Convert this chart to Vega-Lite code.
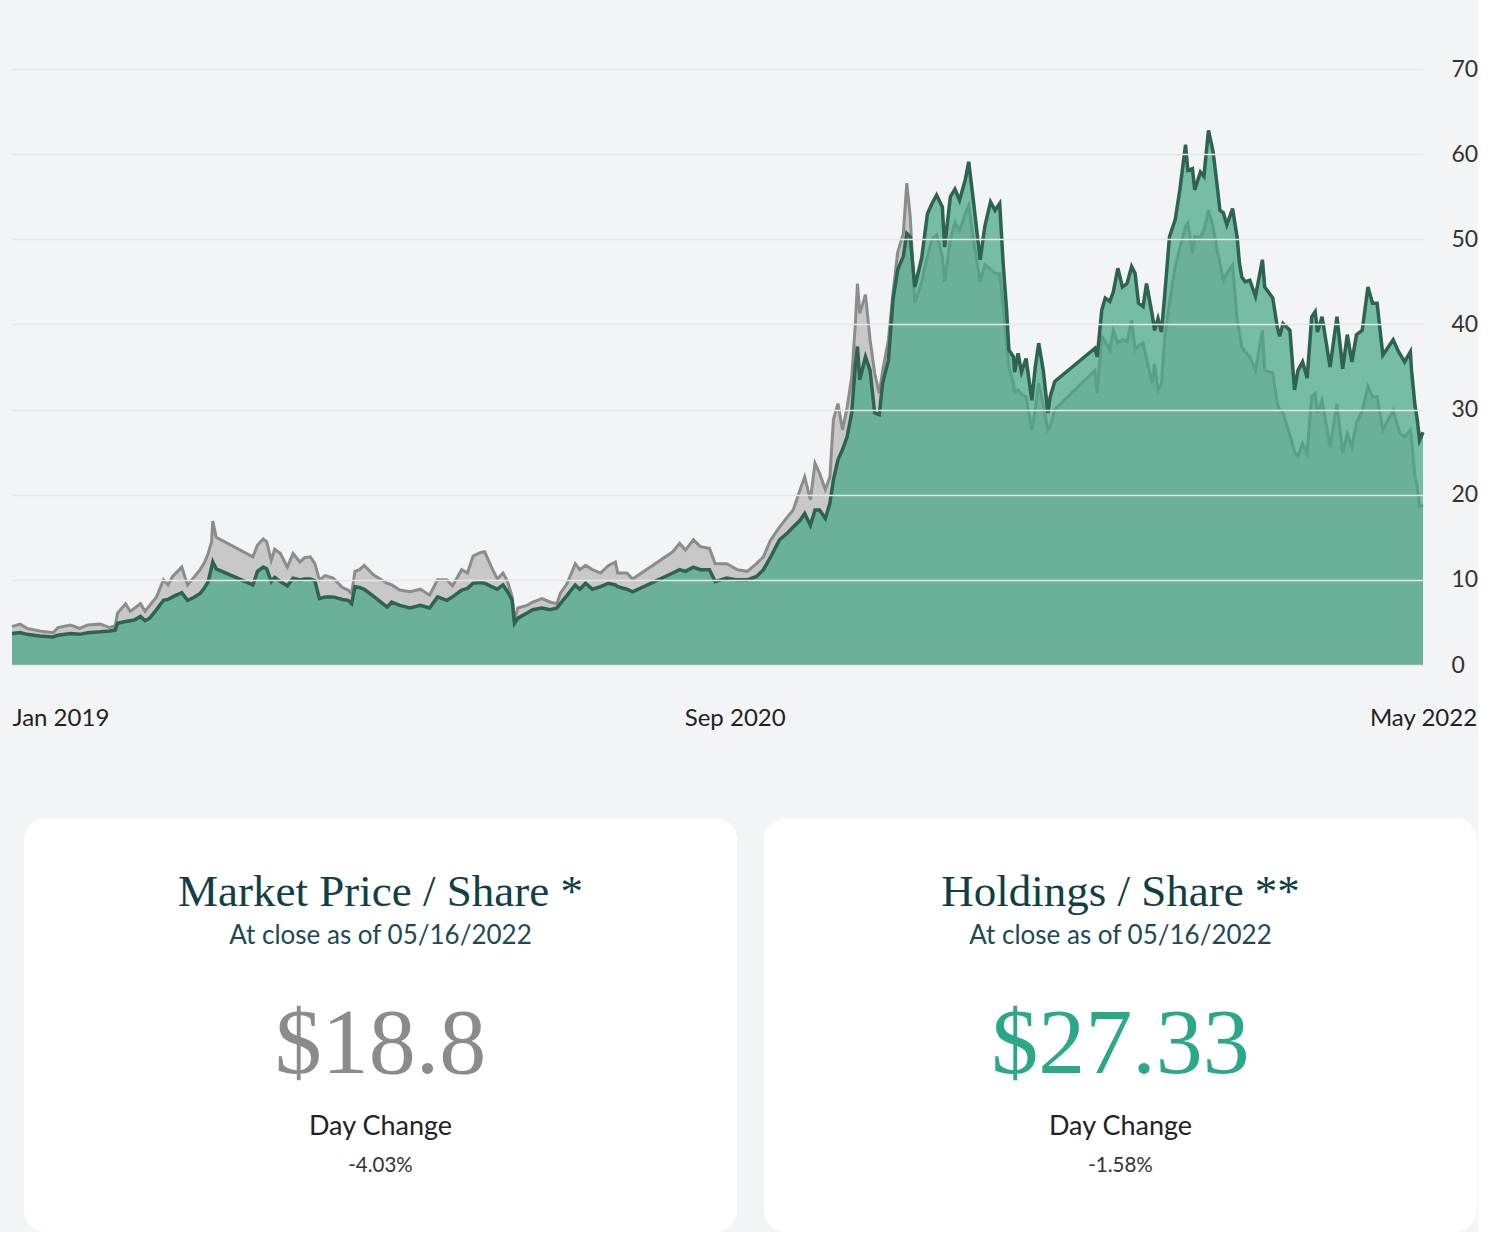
{
  "$schema": "https://vega.github.io/schema/vega-lite/v6.json",
  "background": "#f3f4f6",
  "padding": {"left": 5, "top": 58, "right": 0, "bottom": 0},
  "config": {"view": {"stroke": null}, "font": "Lato"},
  "datasets": {
    "series": [
      {"date":"2019-01-02","price":4.5,"nav":3.7},{"date":"2019-01-09","price":4.8,"nav":3.8},{"date":"2019-01-15","price":4.3,"nav":3.6},{"date":"2019-01-26","price":4.0,"nav":3.4},{"date":"2019-02-07","price":3.8,"nav":3.3},{"date":"2019-02-11","price":4.4,"nav":3.5},{"date":"2019-02-22","price":4.7,"nav":3.7},{"date":"2019-03-02","price":4.3,"nav":3.6},{"date":"2019-03-09","price":4.7,"nav":3.8},{"date":"2019-03-20","price":4.8,"nav":3.9},{"date":"2019-03-28","price":4.4,"nav":4.0},{"date":"2019-04-02","price":4.6,"nav":4.1},{"date":"2019-04-04","price":6.1,"nav":4.9},{"date":"2019-04-11","price":7.2,"nav":5.1},{"date":"2019-04-15","price":6.3,"nav":5.2},{"date":"2019-04-19","price":6.7,"nav":5.3},{"date":"2019-04-24","price":7.2,"nav":5.7},{"date":"2019-04-28","price":6.3,"nav":5.2},{"date":"2019-05-02","price":7.0,"nav":5.5},{"date":"2019-05-08","price":8.0,"nav":6.5},{"date":"2019-05-14","price":10.0,"nav":7.6},{"date":"2019-05-18","price":9.4,"nav":7.7},{"date":"2019-05-22","price":10.4,"nav":8.0},{"date":"2019-05-30","price":11.5,"nav":8.5},{"date":"2019-06-04","price":9.4,"nav":7.6},{"date":"2019-06-09","price":10.2,"nav":7.9},{"date":"2019-06-15","price":11.2,"nav":8.4},{"date":"2019-06-19","price":12.1,"nav":9.1},{"date":"2019-06-22","price":13.1,"nav":9.8},{"date":"2019-06-25","price":14.5,"nav":11.5},{"date":"2019-06-26","price":16.9,"nav":12.1},{"date":"2019-06-29","price":15.0,"nav":11.3},{"date":"2019-07-31","price":12.7,"nav":9.4},{"date":"2019-08-04","price":14.1,"nav":11.0},{"date":"2019-08-09","price":14.8,"nav":11.5},{"date":"2019-08-12","price":14.5,"nav":11.3},{"date":"2019-08-16","price":12.3,"nav":9.8},{"date":"2019-08-19","price":13.6,"nav":10.3},{"date":"2019-08-24","price":13.1,"nav":9.8},{"date":"2019-08-30","price":11.5,"nav":9.3},{"date":"2019-09-04","price":13.1,"nav":10.2},{"date":"2019-09-10","price":12.1,"nav":10.0},{"date":"2019-09-14","price":12.6,"nav":10.1},{"date":"2019-09-19","price":12.7,"nav":10.1},{"date":"2019-09-23","price":11.9,"nav":9.9},{"date":"2019-09-27","price":10.0,"nav":7.8},{"date":"2019-10-02","price":10.5,"nav":8.0},{"date":"2019-10-09","price":10.2,"nav":8.0},{"date":"2019-10-17","price":9.1,"nav":7.7},{"date":"2019-10-22","price":8.8,"nav":7.6},{"date":"2019-10-25","price":8.4,"nav":7.2},{"date":"2019-10-28","price":11.0,"nav":9.2},{"date":"2019-11-01","price":11.2,"nav":9.1},{"date":"2019-11-05","price":11.7,"nav":8.9},{"date":"2019-11-13","price":10.6,"nav":8.1},{"date":"2019-11-25","price":9.6,"nav":6.8},{"date":"2019-11-29","price":9.4,"nav":7.4},{"date":"2019-12-06","price":8.8,"nav":7.0},{"date":"2019-12-15","price":8.6,"nav":6.7},{"date":"2019-12-24","price":8.9,"nav":7.0},
      {"date":"2020-01-01","price":8.2,"nav":6.7},{"date":"2020-01-08","price":10.0,"nav":8.0},{"date":"2020-01-16","price":10.0,"nav":7.6},{"date":"2020-01-21","price":9.3,"nav":8.0},{"date":"2020-01-29","price":11.2,"nav":8.8},{"date":"2020-02-03","price":10.8,"nav":9.0},{"date":"2020-02-08","price":12.8,"nav":9.6},{"date":"2020-02-14","price":13.2,"nav":9.7},{"date":"2020-02-18","price":13.3,"nav":9.6},{"date":"2020-02-24","price":11.5,"nav":9.2},{"date":"2020-02-29","price":10.1,"nav":8.9},{"date":"2020-03-05","price":10.8,"nav":9.4},{"date":"2020-03-09","price":9.8,"nav":8.6},{"date":"2020-03-13","price":8.0,"nav":7.6},{"date":"2020-03-15","price":5.3,"nav":4.9},{"date":"2020-03-18","price":6.7,"nav":5.5},{"date":"2020-03-26","price":7.0,"nav":6.1},{"date":"2020-03-31","price":7.4,"nav":6.5},{"date":"2020-04-08","price":7.8,"nav":6.7},{"date":"2020-04-15","price":7.4,"nav":6.5},{"date":"2020-04-21","price":7.2,"nav":6.7},{"date":"2020-04-24","price":8.4,"nav":7.2},{"date":"2020-04-30","price":9.6,"nav":8.2},{"date":"2020-05-07","price":11.9,"nav":9.4},{"date":"2020-05-11","price":11.2,"nav":8.9},{"date":"2020-05-16","price":11.7,"nav":9.6},{"date":"2020-05-22","price":11.2,"nav":8.9},{"date":"2020-05-29","price":10.8,"nav":9.2},{"date":"2020-06-05","price":11.7,"nav":9.6},{"date":"2020-06-11","price":12.1,"nav":9.4},{"date":"2020-06-13","price":10.8,"nav":9.2},{"date":"2020-06-21","price":10.8,"nav":8.9},{"date":"2020-06-26","price":10.1,"nav":8.6},{"date":"2020-07-31","price":13.3,"nav":10.8},{"date":"2020-08-06","price":14.3,"nav":11.2},{"date":"2020-08-11","price":13.5,"nav":11.0},{"date":"2020-08-18","price":14.7,"nav":11.5},{"date":"2020-08-24","price":13.9,"nav":11.2},{"date":"2020-09-01","price":13.7,"nav":11.2},{"date":"2020-09-06","price":11.9,"nav":9.8},{"date":"2020-09-16","price":11.9,"nav":10.2},{"date":"2020-09-25","price":11.2,"nav":10.0},{"date":"2020-10-04","price":11.0,"nav":10.0},{"date":"2020-10-12","price":11.9,"nav":10.4},{"date":"2020-10-18","price":12.7,"nav":11.2},{"date":"2020-10-24","price":14.6,"nav":12.6},{"date":"2020-11-01","price":16.2,"nav":14.7},{"date":"2020-11-08","price":17.4,"nav":15.5},{"date":"2020-11-13","price":18.2,"nav":16.2},{"date":"2020-11-19","price":20.6,"nav":17.0},{"date":"2020-11-23","price":22.1,"nav":17.8},{"date":"2020-11-28","price":19.4,"nav":16.4},{"date":"2020-12-02","price":23.7,"nav":18.2},{"date":"2020-12-06","price":22.5,"nav":18.2},{"date":"2020-12-11","price":20.6,"nav":17.2},{"date":"2020-12-15","price":22.1,"nav":19.0},{"date":"2020-12-18","price":28.8,"nav":21.7},{"date":"2020-12-22","price":30.7,"nav":24.1},{"date":"2020-12-26","price":27.6,"nav":25.3},{"date":"2020-12-30","price":30.3,"nav":26.8},
      {"date":"2021-01-03","price":33.8,"nav":29.6},{"date":"2021-01-06","price":39.7,"nav":35.0},{"date":"2021-01-08","price":44.8,"nav":37.4},{"date":"2021-01-10","price":41.3,"nav":33.5},{"date":"2021-01-15","price":43.5,"nav":36.2},{"date":"2021-01-19","price":38.2,"nav":34.6},{"date":"2021-01-23","price":34.3,"nav":29.6},{"date":"2021-01-27","price":31.9,"nav":29.4},{"date":"2021-01-30","price":34.6,"nav":33.1},{"date":"2021-02-04","price":38.2,"nav":35.8},{"date":"2021-02-08","price":43.7,"nav":42.9},{"date":"2021-02-12","price":48.4,"nav":46.4},{"date":"2021-02-17","price":50.7,"nav":48.0},{"date":"2021-02-20","price":56.6,"nav":50.7},{"date":"2021-02-23","price":52.7,"nav":50.3},{"date":"2021-02-27","price":42.5,"nav":44.4},{"date":"2021-03-05","price":45.0,"nav":47.8},{"date":"2021-03-10","price":48.0,"nav":53.0},{"date":"2021-03-14","price":50.0,"nav":54.2},{"date":"2021-03-18","price":50.5,"nav":55.2},{"date":"2021-03-23","price":48.0,"nav":53.8},{"date":"2021-03-25","price":45.0,"nav":49.1},{"date":"2021-03-30","price":50.0,"nav":55.0},{"date":"2021-04-03","price":52.0,"nav":55.9},{"date":"2021-04-07","price":51.0,"nav":54.6},{"date":"2021-04-12","price":53.0,"nav":57.0},{"date":"2021-04-15","price":54.0,"nav":59.1},{"date":"2021-04-19","price":50.0,"nav":54.6},{"date":"2021-04-25","price":45.0,"nav":47.6},{"date":"2021-04-29","price":47.0,"nav":51.5},{"date":"2021-05-04","price":46.5,"nav":54.4},{"date":"2021-05-08","price":46.0,"nav":53.4},{"date":"2021-05-12","price":46.0,"nav":54.2},{"date":"2021-05-15","price":42.0,"nav":47.2},{"date":"2021-05-18","price":37.8,"nav":41.7},{"date":"2021-05-20","price":35.0,"nav":37.0},{"date":"2021-05-24","price":33.1,"nav":36.2},{"date":"2021-05-25","price":32.0,"nav":34.4},{"date":"2021-05-28","price":32.3,"nav":36.6},{"date":"2021-05-31","price":31.8,"nav":34.4},{"date":"2021-06-04","price":31.5,"nav":36.0},{"date":"2021-06-09","price":27.6,"nav":31.1},{"date":"2021-06-12","price":30.0,"nav":35.0},{"date":"2021-06-15","price":33.1,"nav":37.8},{"date":"2021-06-19","price":30.5,"nav":34.6},{"date":"2021-06-23","price":27.6,"nav":29.6},{"date":"2021-06-25","price":28.0,"nav":31.5},{"date":"2021-06-29","price":30.0,"nav":33.3},{"date":"2021-08-03","price":34.6,"nav":37.2},{"date":"2021-08-05","price":31.9,"nav":36.2},{"date":"2021-08-09","price":38.6,"nav":41.7},{"date":"2021-08-12","price":38.0,"nav":43.1},{"date":"2021-08-16","price":37.0,"nav":42.7},{"date":"2021-08-19","price":39.3,"nav":43.8},{"date":"2021-08-23","price":37.8,"nav":46.6},{"date":"2021-08-27","price":38.2,"nav":44.4},{"date":"2021-08-31","price":38.0,"nav":44.8},{"date":"2021-09-04","price":40.5,"nav":46.8},{"date":"2021-09-07","price":37.0,"nav":46.0},{"date":"2021-09-10","price":37.5,"nav":42.5},{"date":"2021-09-14","price":37.8,"nav":42.1},{"date":"2021-09-17","price":36.0,"nav":44.8},{"date":"2021-09-22","price":33.1,"nav":41.1},{"date":"2021-09-24","price":35.4,"nav":39.3},{"date":"2021-09-27","price":32.3,"nav":40.7},{"date":"2021-09-30","price":33.0,"nav":39.1},{"date":"2021-10-03","price":38.6,"nav":43.7},{"date":"2021-10-07","price":42.5,"nav":50.3},{"date":"2021-10-12","price":46.8,"nav":52.3},{"date":"2021-10-16","price":49.0,"nav":55.8},{"date":"2021-10-21","price":51.5,"nav":61.1},{"date":"2021-10-23","price":51.9,"nav":58.1},{"date":"2021-10-27","price":48.4,"nav":58.3},{"date":"2021-10-29","price":50.3,"nav":55.8},{"date":"2021-11-03","price":50.3,"nav":57.9},{"date":"2021-11-06","price":51.0,"nav":57.4},{"date":"2021-11-10","price":53.4,"nav":62.8},{"date":"2021-11-14","price":51.5,"nav":60.3},{"date":"2021-11-18","price":48.4,"nav":55.8},{"date":"2021-11-20","price":47.2,"nav":53.4},{"date":"2021-11-23","price":45.2,"nav":53.1},{"date":"2021-11-26","price":46.0,"nav":51.7},{"date":"2021-12-01","price":47.0,"nav":53.6},{"date":"2021-12-05","price":40.5,"nav":50.2},{"date":"2021-12-07","price":39.0,"nav":47.2},{"date":"2021-12-09","price":37.4,"nav":45.6},{"date":"2021-12-12","price":36.8,"nav":45.0},{"date":"2021-12-16","price":36.2,"nav":45.2},{"date":"2021-12-21","price":34.6,"nav":43.3},{"date":"2021-12-27","price":39.3,"nav":47.6},{"date":"2021-12-29","price":34.6,"nav":44.4},
      {"date":"2022-01-05","price":34.3,"nav":43.1},{"date":"2022-01-09","price":30.7,"nav":39.7},{"date":"2022-01-11","price":30.0,"nav":38.6},{"date":"2022-01-14","price":29.6,"nav":40.1},{"date":"2022-01-20","price":27.0,"nav":39.3},{"date":"2022-01-24","price":25.0,"nav":32.3},{"date":"2022-01-27","price":24.5,"nav":34.6},{"date":"2022-01-31","price":26.0,"nav":35.6},{"date":"2022-02-04","price":24.9,"nav":33.7},{"date":"2022-02-08","price":31.5,"nav":40.9},{"date":"2022-02-11","price":31.9,"nav":41.5},{"date":"2022-02-13","price":29.6,"nav":39.1},{"date":"2022-02-17","price":31.1,"nav":40.9},{"date":"2022-02-24","price":25.6,"nav":35.0},{"date":"2022-03-02","price":30.7,"nav":40.9},{"date":"2022-03-07","price":24.9,"nav":34.8},{"date":"2022-03-11","price":27.2,"nav":38.8},{"date":"2022-03-15","price":25.6,"nav":35.6},{"date":"2022-03-19","price":28.4,"nav":38.8},{"date":"2022-03-24","price":29.9,"nav":39.3},{"date":"2022-03-29","price":32.7,"nav":44.4},{"date":"2022-04-02","price":31.5,"nav":42.5},{"date":"2022-04-06","price":31.5,"nav":42.5},{"date":"2022-04-11","price":27.6,"nav":36.4},{"date":"2022-04-20","price":29.9,"nav":38.2},{"date":"2022-04-24","price":28.0,"nav":37.0},{"date":"2022-04-26","price":27.2,"nav":36.5},{"date":"2022-04-30","price":26.8,"nav":35.6},{"date":"2022-05-05","price":27.6,"nav":36.8},{"date":"2022-05-06","price":26.5,"nav":34.6},{"date":"2022-05-09","price":22.1,"nav":30.5},{"date":"2022-05-11","price":21.0,"nav":28.8},{"date":"2022-05-13","price":18.6,"nav":26.4},{"date":"2022-05-16","price":18.8,"nav":27.33}
    ],
    "cards": [
      {"id":"market","heading":"Market Price / Share *","sub":"At close as of 05/16/2022","value":"$18.8","label":"Day Change","change":"-4.03%"},
      {"id":"holdings","heading":"Holdings / Share **","sub":"At close as of 05/16/2022","value":"$27.33","label":"Day Change","change":"-1.58%"}
    ]
  },
  "spacing": 88,
  "vconcat": [
    {
      "width": 1411,
      "height": 596,
      "data": {"name": "series"},
      "encoding": {
        "x": {
          "field": "date", "type": "temporal",
          "scale": {"type": "utc", "nice": false, "domain": [{"year": 2019, "month": 1, "date": 2, "utc": true}, {"year": 2022, "month": 5, "date": 16, "utc": true}]},
          "axis": {
            "title": null, "domain": false, "ticks": false, "grid": false,
            "values": [{"year": 2019, "month": 1, "date": 2, "utc": true}, {"year": 2020, "month": 9, "date": 23, "utc": true}, {"year": 2022, "month": 5, "date": 16, "utc": true}],
            "format": "%b %Y", "labelPadding": 41, "labelFontSize": 24, "labelColor": "#222222", "labelFont": "Lato",
            "labelFlush": false, "labelOverlap": false,
            "labelAlign": {"condition": {"test": "datum.index === 0", "value": "left"}, "value": "center"}
          }
        }
      },
      "layer": [
        {
          "mark": {"type": "area", "color": "#c8c8c9", "opacity": 1},
          "encoding": {
            "y": {
              "field": "price", "type": "quantitative",
              "scale": {"domain": [0, 70], "nice": false},
              "axis": {"orient": "right", "title": null, "values": [0, 10, 20, 30, 40, 50, 60, 70], "domain": false, "ticks": false, "labelPadding": 28, "labelFontSize": 23, "labelColor": "#333333", "labelFont": "Lato", "gridColor": "#e4e6e9", "gridWidth": 1.5, "zindex": 1}
            }
          }
        },
        {
          "mark": {"type": "line", "color": "#8c8c8d", "strokeWidth": 3},
          "encoding": {"y": {"field": "price", "type": "quantitative",
              "axis": {"orient": "right", "title": null, "values": [0, 10, 20, 30, 40, 50, 60, 70], "domain": false, "ticks": false, "labelPadding": 28, "labelFontSize": 23, "labelColor": "#333333", "labelFont": "Lato", "gridColor": "#e4e6e9", "gridWidth": 1.5, "zindex": 1}}}
        },
        {
          "mark": {"type": "area", "color": "#47a887", "opacity": 0.72},
          "encoding": {"y": {"field": "nav", "type": "quantitative",
              "axis": {"orient": "right", "title": null, "values": [0, 10, 20, 30, 40, 50, 60, 70], "domain": false, "ticks": false, "labelPadding": 28, "labelFontSize": 23, "labelColor": "#333333", "labelFont": "Lato", "gridColor": "#e4e6e9", "gridWidth": 1.5, "zindex": 1}}}
        },
        {
          "mark": {"type": "line", "color": "#2e6352", "strokeWidth": 3.5},
          "encoding": {"y": {"field": "nav", "type": "quantitative",
              "axis": {"orient": "right", "title": null, "values": [0, 10, 20, 30, 40, 50, 60, 70], "domain": false, "ticks": false, "labelPadding": 28, "labelFontSize": 23, "labelColor": "#333333", "labelFont": "Lato", "gridColor": "#e4e6e9", "gridWidth": 1.5, "zindex": 1}}}
        }
      ]
    },
    {
      "spacing": 11,
      "hconcat": [
        {
          "width": 1,
          "height": 1,
          "data": {"values": [{"k": 0}]},
          "mark": {"type": "text", "text": "", "fontSize": 1, "baseline": "top"}
        },
        {
          "spacing": 27,
          "hconcat": [
            {
              "width": 713,
              "height": 414,
              "view": {"fill": "#ffffff", "cornerRadius": 22, "stroke": null},
              "data": {"name": "cards"},
              "transform": [{"filter": "datum.id === 'market'"}],
              "layer": [
                {
                  "mark": {"type": "text", "font": "Liberation Serif", "fontSize": 45, "color": "#103f47", "baseline": "alphabetic"},
                  "encoding": {
                    "text": {"field": "heading"},
                    "y": {"datum": 21.3, "type": "quantitative", "scale": {"domain": [0, 100], "reverse": true}, "axis": null}
                  }
                },
                {
                  "mark": {"type": "text", "font": "Lato", "fontSize": 26, "color": "#1b4b52", "baseline": "alphabetic"},
                  "encoding": {"text": {"field": "sub"}, "y": {"datum": 30.5, "type": "quantitative", "axis": null}}
                },
                {
                  "mark": {"type": "text", "font": "Liberation Serif", "fontSize": 94, "color": "#8b8b8b", "baseline": "alphabetic"},
                  "encoding": {"text": {"field": "value"}, "y": {"datum": 61.6, "type": "quantitative", "axis": null}}
                },
                {
                  "mark": {"type": "text", "font": "Lato", "fontSize": 27, "color": "#222222", "baseline": "alphabetic"},
                  "encoding": {"text": {"field": "label"}, "y": {"datum": 76.6, "type": "quantitative", "axis": null}}
                },
                {
                  "mark": {"type": "text", "font": "Lato", "fontSize": 20.5, "color": "#333333", "baseline": "alphabetic"},
                  "encoding": {"text": {"field": "change"}, "y": {"datum": 85.5, "type": "quantitative", "axis": null}}
                }
              ]
            },
            {
              "width": 713,
              "height": 414,
              "view": {"fill": "#ffffff", "cornerRadius": 22, "stroke": null},
              "data": {"name": "cards"},
              "transform": [{"filter": "datum.id === 'holdings'"}],
              "layer": [
                {
                  "mark": {"type": "text", "font": "Liberation Serif", "fontSize": 45, "color": "#103f47", "baseline": "alphabetic"},
                  "encoding": {
                    "text": {"field": "heading"},
                    "y": {"datum": 21.3, "type": "quantitative", "scale": {"domain": [0, 100], "reverse": true}, "axis": null}
                  }
                },
                {
                  "mark": {"type": "text", "font": "Lato", "fontSize": 26, "color": "#1b4b52", "baseline": "alphabetic"},
                  "encoding": {"text": {"field": "sub"}, "y": {"datum": 30.5, "type": "quantitative", "axis": null}}
                },
                {
                  "mark": {"type": "text", "font": "Liberation Serif", "fontSize": 94, "color": "#2ba88a", "baseline": "alphabetic"},
                  "encoding": {"text": {"field": "value"}, "y": {"datum": 61.6, "type": "quantitative", "axis": null}}
                },
                {
                  "mark": {"type": "text", "font": "Lato", "fontSize": 27, "color": "#222222", "baseline": "alphabetic"},
                  "encoding": {"text": {"field": "label"}, "y": {"datum": 76.6, "type": "quantitative", "axis": null}}
                },
                {
                  "mark": {"type": "text", "font": "Lato", "fontSize": 20.5, "color": "#333333", "baseline": "alphabetic"},
                  "encoding": {"text": {"field": "change"}, "y": {"datum": 85.5, "type": "quantitative", "axis": null}}
                }
              ]
            }
          ]
        }
      ]
    }
  ]
}
